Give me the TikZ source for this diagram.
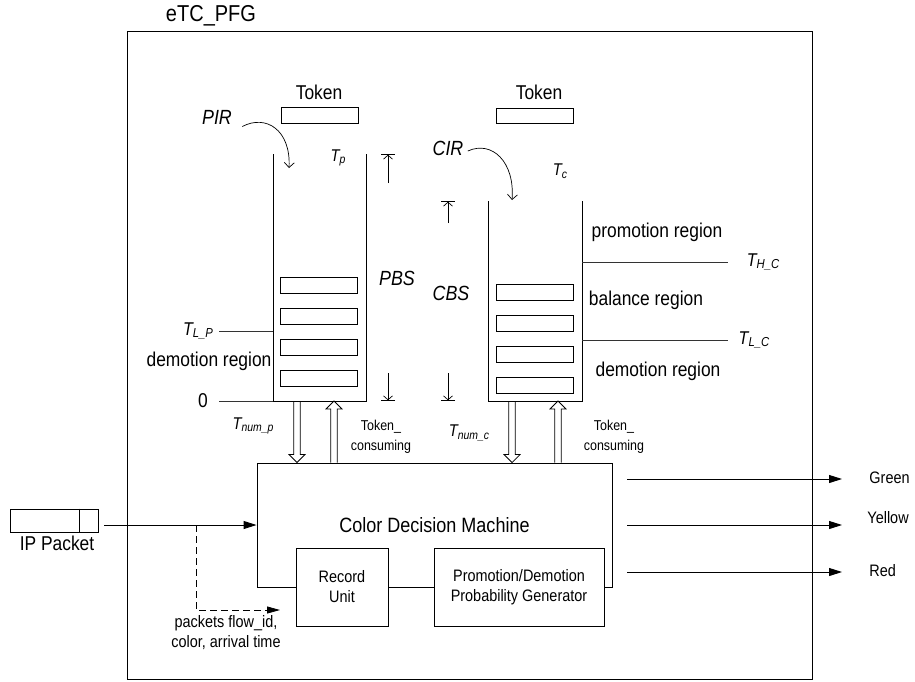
\documentclass[tikz,border=0pt]{standalone}
\usepackage{fontspec}
\setmainfont[FakeStretch=0.87]{Liberation Sans}
\usetikzlibrary{arrows.meta,calc}
\newcommand{\eTCVar}[3]{\fontsize{#1}{#1}\selectfont\itshape T\raisebox{-0.15em}{\fontsize{#2}{#2}\selectfont #3}}
\newcommand{\eTCHollowArrow}[3]{\draw[line width=0.8pt, line join=miter] ($(#1)+(-3.3,0)$) -- ($(#2)+(-3.3,{-8*(#3)})$) -- ($(#2)+(-8,{-8*(#3)})$) -- (#2) -- ($(#2)+(8,{-8*(#3)})$) -- ($(#2)+(3.3,{-8*(#3)})$) -- ($(#1)+(3.3,0)$);}

\begin{document}
\begin{tikzpicture}[x=1pt,y=-1pt, line width=0.9pt,
  lbl/.style={font=\fontsize{20}{24}\selectfont, inner sep=0pt},
  smalllbl/.style={font=\fontsize{16.6}{20}\selectfont, inner sep=0pt, align=center},
  tinylbl/.style={font=\fontsize{14.3}{20}\selectfont, inner sep=0pt, align=center},
  slot/.style={draw, minimum width=77pt, minimum height=16pt, inner sep=0pt},
  threshold/.style={line width=0.6pt, black!80},
  flow/.style={-{Triangle[length=13pt,width=8pt]}},
  span/.style={line width=0.7pt, -{Straight Barb[length=4pt,width=9pt]Bar[width=14pt]}},
  inflow/.style={line width=0.7pt, -{Straight Barb[length=5pt,width=10pt]}}]
\useasboundingbox (0,0) rectangle (915,681);
% frame
\draw (127,31) rectangle (812,679);
\node[inner sep=0pt, font=\fontsize{23}{26}\selectfont] (title) at (211,16) {eTC\_PFG};
% token buckets
\node[lbl] (pTokenLbl) at (319,92) {Token};
\node[lbl] (cTokenLbl) at (539,92) {Token};
\node[draw, minimum width=77pt, minimum height=16pt] (pToken) at (319.5,115) {};
\node[draw, minimum width=77pt, minimum height=15pt] (cToken) at (534.5,115.5) {};
\node[lbl, font=\fontsize{20.5}{24}\selectfont\itshape] (pir) at (217,117) {PIR};
\node[lbl, font=\fontsize{20.5}{24}\selectfont\itshape] (cir) at (448,148) {CIR};
\coordinate (pirIn) at (289,168);
\coordinate (cirIn) at (512,200);
\draw[inflow] ($(pir.south east)+(10,2)$) .. controls (266,114) and (291,130) .. (pirIn);
\draw[inflow] ($(cir.east)+(4,3)$) .. controls (492,140) and (515,162) .. (cirIn);
\node[inner sep=0pt] (tp) at (338,158) {\eTCVar{17}{12}{p}};
\node[inner sep=0pt] (tc) at (560,171) {\eTCVar{17}{12}{c}};
\draw (273,154) -- (273,401) -- (366,401) -- (366,154);
\draw (488,201) -- (488,401) -- (582,401) -- (582,201);
\node[slot] (pSlotA) at (319,285) {};
\node[slot] (pSlotB) at (319,316) {};
\node[slot] (pSlotC) at (319,347) {};
\node[slot] (pSlotD) at (319,378) {};
\node[slot] (cSlotA) at (534.5,292.5) {};
\node[slot] (cSlotB) at (534.5,323.5) {};
\node[slot] (cSlotC) at (534.5,354.5) {};
\node[slot] (cSlotD) at (534.5,385.5) {};
% bucket sizes
\draw[span] (388,183) -- (388,154);
\draw[span] (388,373) -- (388,401);
\draw[span] (448,223) -- (448,201);
\draw[span] (448,373) -- (448,401);
\node[lbl, font=\fontsize{20.5}{24}\selectfont\itshape] (pbs) at (397,278) {PBS};
\node[lbl, font=\fontsize{20.5}{24}\selectfont\itshape] (cbs) at (451,293) {CBS};
% thresholds
\node[inner sep=0pt] (tlp) at (198,331) {\eTCVar{18.5}{13}{L\_P}};
\node[lbl] (zero) at (203,401) {0};
\node[lbl] (pDemotion) at (209,361) {demotion region};
\draw[threshold, shorten <=6pt] (tlp.east) -- (273,331);
\draw[threshold, shorten <=11pt] (zero.east) -- (273,401);
\node[lbl] (promotion) at (657,232) {promotion region};
\node[lbl] (balance) at (646,300) {balance region};
\node[lbl] (cDemotion) at (658,371) {demotion region};
\node[inner sep=0pt] (thc) at (763,262) {\eTCVar{18.5}{13}{H\_C}};
\node[inner sep=0pt] (tlc) at (754,340) {\eTCVar{18.5}{13}{L\_C}};
\draw[threshold, shorten >=18pt] (582,262) -- (thc.west);
\draw[threshold, shorten >=10pt] (582,340) -- (tlc.west);
% color decision machine
\node[draw, minimum width=355pt, minimum height=124pt, font=\fontsize{20.7}{24}\selectfont] (cdm) at (434.5,525) {Color Decision Machine};
\node[draw, fill=white, smalllbl, minimum width=92pt, minimum height=78pt] (recordUnit) at (342,587) {Record\\Unit};
\node[draw, fill=white, smalllbl, minimum width=170pt, minimum height=78pt] (probGen) at (519,587) {Promotion/Demotion\\Probability Generator};
\coordinate (pOut) at (297,401);
\coordinate (pIn) at (334,401);
\coordinate (cOut) at (512,401);
\coordinate (cIn) at (558,401);
\eTCHollowArrow{pOut}{pOut |- cdm.north}{1}
\eTCHollowArrow{pIn |- cdm.north}{pIn}{-1}
\eTCHollowArrow{cOut}{cOut |- cdm.north}{1}
\eTCHollowArrow{cIn |- cdm.north}{cIn}{-1}
\node[inner sep=0pt] (tnump) at (253,426) {\eTCVar{17}{12}{num\_p}};
\node[inner sep=0pt] (tnumc) at (469,433) {\eTCVar{17}{12}{num\_c}};
\node[tinylbl] (pConsume) at (381,437) {Token\_\\consuming};
\node[tinylbl] (cConsume) at (614,437) {Token\_\\consuming};
% packet in
\node[draw, minimum width=88pt, minimum height=23pt] (ipPacket) at (54,520.5) {};
\draw ($(ipPacket.north east)+(-19,0)$) -- ($(ipPacket.south east)+(-19,0)$);
\node[lbl] (ipLbl) at (57,543) {IP Packet};
\draw[flow, shorten <=6pt] (ipPacket.east |- cdm.west) -- (cdm.west);
\coordinate (split) at (196,525);
\coordinate (recordIn) at (280,610);
\draw[-{Triangle[length=13pt,width=7pt]}, dash pattern=on 7pt off 4pt, line width=0.8pt] (split) |- (recordIn);
\node[smalllbl] (flowLbl) at (226,633) {packets flow\_id,\\color, arrival time};
% colours out
\coordinate (greenFrom) at (627,479);
\coordinate (yellowFrom) at (627,525);
\coordinate (redFrom) at (627,572);
\node[smalllbl, anchor=west] (green) at (869,478) {Green};
\node[smalllbl, anchor=west] (yellow) at (867,518) {Yellow};
\node[smalllbl, anchor=west] (red) at (869,571) {Red};
\draw[flow, shorten >=27pt] (greenFrom) -- (greenFrom -| green.west);
\draw[flow, shorten >=25pt] (yellowFrom) -- (yellowFrom -| yellow.west);
\draw[flow, shorten >=27pt] (redFrom) -- (redFrom -| red.west);
\end{tikzpicture}
\end{document}
